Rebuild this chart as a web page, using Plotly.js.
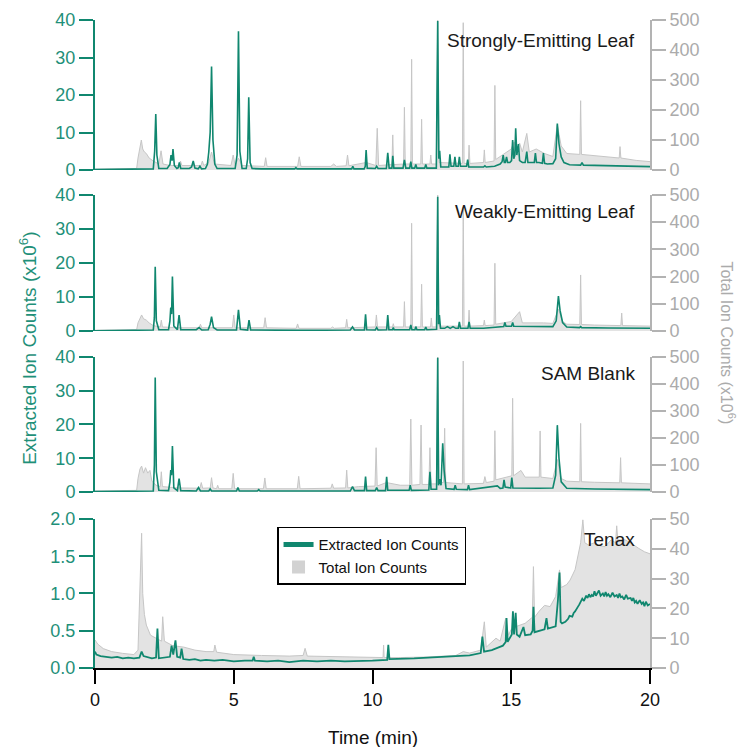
<!DOCTYPE html>
<html>
<head>
<meta charset="utf-8">
<script src="https://cdn.plot.ly/plotly-3.0.1.min.js"></script>
<style>html,body{margin:0;padding:0;background:#fff;}#chart{width:747px;height:747px;}</style>
</head>
<body>
<div id="chart"></div>
<script>
// ---- Data: [time (min), counts (x10^6)] ----
const panelNames = ["Strongly-Emitting Leaf", "Weakly-Emitting Leaf", "SAM Blank", "Tenax"];
const xTicks = [0, 5, 10, 15, 20];
const eicTicksTop = [0, 10, 20, 30, 40];
const ticTicksTop = [0, 100, 200, 300, 400, 500];
const eicTicksTenax = [0, 0.5, 1.0, 1.5, 2.0];
const ticTicksTenax = [0, 10, 20, 30, 40, 50];

const strongEic = [[0,0.1],[1.5,0.1],[1.6,0.3],[1.7,0.3],[2.1,0.3],[2.15,5],[2.19,14.9],[2.23,4],[2.3,0.4],[2.6,0.4],[2.7,1.5],[2.74,4],[2.78,2.5],[2.81,5.6],[2.86,1.2],[2.95,0.4],[3.0,0.6],[3.04,2],[3.09,0.4],[3.4,0.4],[3.48,0.8],[3.54,2.4],[3.6,0.5],[3.72,0.3],[3.78,1],[3.84,0.3],[3.98,0.4],[4.05,1.5],[4.1,4.8],[4.15,10],[4.2,27.6],[4.25,8],[4.32,1.5],[4.4,0.4],[5.05,0.4],[5.12,4],[5.17,37],[5.22,5],[5.3,0.4],[5.45,0.4],[5.5,3],[5.54,19.4],[5.59,2],[5.66,0.4],[6.0,0.3],[7.2,0.3],[7.24,0.6],[7.28,0.3],[9.0,0.3],[9.25,0.3],[9.29,1],[9.33,0.3],[9.7,0.3],[9.74,1],[9.77,5.3],[9.81,0.5],[10.1,0.4],[10.15,1],[10.2,0.4],[10.5,0.4],[10.55,4.6],[10.6,0.5],[10.7,0.5],[10.73,3.8],[10.77,0.5],[11.1,0.5],[11.15,2.7],[11.2,0.5],[11.34,0.5],[11.38,2.2],[11.42,0.5],[11.52,0.5],[11.56,1.5],[11.6,0.5],[11.88,0.5],[11.92,1.5],[11.96,0.5],[12.3,0.5],[12.35,39.7],[12.39,3],[12.42,5.1],[12.46,0.8],[12.6,0.8],[12.75,0.8],[12.79,4.2],[12.83,1],[12.93,1],[12.97,3.5],[13.01,1],[13.09,1],[13.13,3.5],[13.17,1],[13.39,1],[13.43,2.8],[13.47,0.8],[13.8,0.8],[14.0,0.8],[14.05,1.1],[14.1,0.8],[14.4,1.0],[14.6,1.6],[14.67,2.2],[14.71,4],[14.75,2],[14.79,2],[14.83,3.5],[14.87,2],[14.95,2],[15.01,2.5],[15.05,8],[15.09,3],[15.13,4],[15.16,11.1],[15.2,4],[15.26,6.9],[15.3,2.5],[15.4,2],[15.5,2],[15.56,4.9],[15.6,2],[15.7,2],[15.83,2],[15.87,4.5],[15.91,2],[16.0,2],[16.12,1.8],[16.16,4.5],[16.2,1.8],[16.3,1.6],[16.5,1.7],[16.6,3],[16.66,12.4],[16.72,7],[16.8,3.5],[16.9,2],[17.1,1.4],[17.5,1.3],[17.55,2],[17.6,1.3],[18.5,1.2],[19.5,1.0],[20,0.9]];
const strongTic = [[0,3],[1.5,5],[1.55,40],[1.62,80],[1.67,100],[1.72,70],[1.78,60],[1.85,55],[1.95,40],[2.1,30],[2.3,20],[2.38,64],[2.45,20],[2.7,15],[3.03,15],[3.08,30],[3.13,15],[3.82,15],[3.87,30],[3.92,15],[4.1,25],[4.2,60],[4.3,20],[4.9,15],[4.98,50],[5.05,15],[5.17,40],[5.3,15],[6.1,12],[6.15,41],[6.2,12],[7.3,12],[7.36,44],[7.42,12],[8.5,12],[8.6,20],[8.7,12],[9.05,14],[9.1,50],[9.15,14],[9.77,25],[10.12,15],[10.17,139],[10.22,15],[10.7,18],[10.73,117],[10.76,18],[11.12,20],[11.15,209],[11.18,20],[11.38,20],[11.41,369],[11.44,20],[11.74,20],[11.77,169],[11.8,20],[12.07,20],[12.1,50],[12.13,20],[12.3,20],[12.35,500],[12.4,25],[13.24,22],[13.27,491],[13.3,22],[13.45,22],[13.48,83],[13.51,22],[14.0,25],[14.03,67],[14.06,25],[14.38,30],[14.41,282],[14.44,35],[14.7,50],[15.0,70],[15.1,94],[15.2,70],[15.3,90],[15.4,60],[15.56,122],[15.65,60],[15.9,70],[16.2,55],[16.5,45],[16.66,150],[16.8,80],[17.0,55],[17.47,52],[17.5,231],[17.53,52],[18.0,48],[18.89,40],[18.92,78],[18.95,40],[19.5,32],[20,28]];

const weakEic = [[0,0.1],[1.5,0.1],[1.6,0.3],[2.1,0.3],[2.14,4],[2.17,18.9],[2.21,3],[2.3,0.4],[2.65,0.4],[2.7,3],[2.73,6.9],[2.76,5],[2.79,16],[2.84,1.5],[2.97,0.4],[3.03,4.7],[3.09,0.4],[3.65,0.4],[3.75,1],[3.85,0.3],[4.08,0.4],[4.15,2],[4.2,4.2],[4.27,1],[4.4,0.3],[5.1,0.3],[5.17,6.2],[5.24,0.5],[5.5,0.3],[5.55,3.2],[5.61,0.3],[7.2,0.2],[7.3,0.3],[7.4,0.2],[9.2,0.3],[9.28,1.2],[9.35,0.3],[9.71,0.3],[9.75,4.9],[9.79,0.4],[10.1,0.3],[10.15,1],[10.2,0.3],[10.51,0.4],[10.55,4.7],[10.59,0.4],[10.72,0.4],[10.75,1],[10.78,0.4],[11.34,0.4],[11.38,1.8],[11.42,0.4],[11.53,0.4],[11.56,1.3],[11.6,0.4],[11.88,0.4],[11.92,1.2],[11.96,0.4],[12.31,0.5],[12.35,39.5],[12.38,2],[12.41,4.7],[12.45,0.8],[12.6,0.8],[12.7,1.3],[12.8,0.8],[12.9,1.3],[13.0,0.8],[13.09,0.8],[13.13,2.7],[13.17,0.8],[13.44,0.8],[13.48,2.7],[13.52,0.8],[14.0,0.8],[14.5,1.2],[14.73,1.3],[14.77,2.5],[14.81,1.4],[15.01,1.4],[15.05,2.5],[15.09,1.4],[15.5,1.4],[16.0,1.3],[16.5,1.3],[16.62,3],[16.7,10.3],[16.76,6],[16.85,2.5],[17.0,1.2],[17.46,1],[17.5,1.3],[17.54,1],[18.5,0.9],[20,0.8]];
const weakTic = [[0,3],[1.5,5],[1.55,30],[1.62,50],[1.68,59],[1.75,45],[1.85,40],[1.95,30],[2.1,20],[2.35,15],[2.39,40],[2.43,15],[3.0,12],[3.75,12],[3.8,25],[3.85,12],[4.95,12],[5.0,59],[5.05,12],[6.08,12],[6.13,49],[6.18,12],[7.25,10],[7.3,26],[7.35,10],[8.5,10],[8.56,15],[8.62,10],[9.03,12],[9.07,43],[9.11,12],[10.1,15],[10.14,59],[10.18,15],[10.72,15],[10.75,27],[10.78,15],[11.12,15],[11.15,108],[11.18,15],[11.38,15],[11.41,396],[11.44,15],[11.74,15],[11.77,172],[11.8,15],[12.09,15],[12.12,48],[12.15,15],[12.3,15],[12.35,500],[12.4,18],[13.24,18],[13.27,455],[13.3,18],[13.45,18],[13.48,77],[13.51,18],[14.0,20],[14.03,40],[14.06,20],[14.38,22],[14.41,249],[14.44,25],[14.7,30],[15.0,35],[15.3,71],[15.4,30],[16.16,30],[16.5,28],[16.7,80],[16.85,35],[17.0,25],[17.47,24],[17.5,206],[17.53,24],[18.0,22],[18.95,20],[18.98,66],[19.01,20],[20,18]];

const blankEic = [[0,0.1],[1.5,0.1],[1.6,0.3],[2.1,0.3],[2.14,8],[2.17,33.9],[2.21,6],[2.3,0.5],[2.65,0.4],[2.7,3],[2.73,6.5],[2.76,5],[2.79,13.6],[2.84,1.2],[2.97,0.4],[3.03,4],[3.09,0.4],[3.65,0.3],[3.73,1.3],[3.8,0.3],[4.1,0.3],[4.15,0.9],[4.2,0.3],[5.1,0.3],[5.15,1.3],[5.2,0.3],[5.85,0.3],[5.9,0.7],[5.95,0.3],[7.3,0.3],[7.35,0.5],[7.4,0.3],[9.2,0.3],[9.28,1.6],[9.35,0.4],[9.71,0.4],[9.75,4.6],[9.79,0.4],[10.1,0.4],[10.15,1.3],[10.2,0.4],[10.47,0.4],[10.51,4.5],[10.55,0.5],[11.32,0.5],[11.36,2],[11.4,0.5],[12.03,0.6],[12.07,6],[12.11,0.8],[12.31,0.8],[12.35,39.8],[12.38,2],[12.42,3.8],[12.47,2],[12.53,14.4],[12.58,6.5],[12.65,1],[12.94,0.8],[12.98,2],[13.02,0.8],[13.42,0.7],[13.46,2],[13.5,0.7],[14.0,1.2],[14.5,1.8],[14.6,1.1],[14.7,1.2],[14.74,3.6],[14.78,1.5],[14.98,1.2],[15.02,4.3],[15.06,1.2],[15.5,1.1],[16.0,1.1],[16.5,1.2],[16.6,5],[16.66,19.8],[16.72,10],[16.8,3],[17.0,1.1],[18,0.9],[20,0.7]];
const blankTic = [[0,4],[1.5,6],[1.55,50],[1.62,85],[1.68,96],[1.75,70],[1.82,90],[1.9,70],[1.98,80],[2.05,40],[2.2,25],[2.35,20],[2.39,75],[2.43,20],[3.0,15],[3.78,14],[3.83,35],[3.88,14],[4.15,15],[4.2,53],[4.25,15],[4.38,12],[4.42,25],[4.46,12],[4.93,12],[4.98,69],[5.03,12],[6.07,12],[6.12,52],[6.17,12],[7.29,12],[7.34,58],[7.39,12],[8.5,14],[8.55,30],[8.6,14],[9.03,15],[9.07,81],[9.11,15],[9.5,20],[10.09,22],[10.13,164],[10.17,22],[10.5,35],[11.0,25],[11.34,25],[11.38,270],[11.42,25],[11.71,28],[11.75,248],[11.79,28],[12.03,28],[12.07,164],[12.11,30],[12.3,30],[12.35,500],[12.4,35],[12.56,35],[12.6,236],[12.64,35],[13.24,30],[13.27,485],[13.3,30],[14.0,32],[14.05,57],[14.1,35],[14.38,40],[14.41,227],[14.44,45],[14.8,55],[15.02,60],[15.05,347],[15.08,60],[15.35,80],[15.5,55],[16.01,55],[16.04,226],[16.07,55],[16.5,50],[16.66,120],[16.8,50],[17.0,40],[17.47,38],[17.5,254],[17.53,38],[18.0,36],[18.91,34],[18.94,127],[18.97,34],[20,30]];

const tenaxEic = [[0,0.22],[0.05,0.18],[0.2,0.16],[0.4,0.15],[0.6,0.14],[0.8,0.15],[1.0,0.13],[1.2,0.14],[1.4,0.13],[1.6,0.14],[1.68,0.22],[1.75,0.16],[1.9,0.15],[2.05,0.13],[2.2,0.14],[2.25,0.53],[2.3,0.13],[2.5,0.14],[2.7,0.15],[2.76,0.3],[2.82,0.18],[2.9,0.37],[2.96,0.15],[3.07,0.14],[3.12,0.26],[3.18,0.12],[3.4,0.11],[3.6,0.12],[3.8,0.1],[4.0,0.11],[4.3,0.1],[4.6,0.11],[5.0,0.09],[5.4,0.1],[5.68,0.1],[5.72,0.15],[5.76,0.1],[6.2,0.09],[6.6,0.1],[7.0,0.08],[7.5,0.1],[8.0,0.09],[8.5,0.1],[9.0,0.09],[9.5,0.1],[10.0,0.1],[10.53,0.11],[10.57,0.31],[10.61,0.12],[11.0,0.12],[11.5,0.13],[12.0,0.14],[12.5,0.15],[13.0,0.16],[13.5,0.17],[13.9,0.2],[13.96,0.42],[14.02,0.22],[14.3,0.24],[14.5,0.27],[14.7,0.3],[14.8,0.35],[14.83,0.67],[14.87,0.35],[14.95,0.4],[15.02,0.45],[15.06,0.76],[15.1,0.45],[15.16,0.74],[15.2,0.45],[15.3,0.42],[15.44,0.55],[15.5,0.44],[15.7,0.45],[15.77,0.5],[15.8,0.82],[15.84,0.48],[16.0,0.5],[16.2,0.52],[16.27,0.67],[16.32,0.53],[16.6,0.56],[16.68,0.9],[16.74,1.28],[16.78,0.62],[16.83,0.6],[16.95,0.62],[17.05,0.66],[17.1,0.7],[17.2,0.69],[17.25,0.74],[17.3,0.76],[17.35,0.8],[17.4,0.82],[17.45,0.85],[17.5,0.88],[17.56,0.93],[17.62,0.9],[17.7,0.97],[17.75,0.94],[17.8,0.99],[17.85,0.95],[17.9,0.98],[17.95,0.96],[18.0,1.03],[18.05,0.97],[18.1,1.0],[18.16,1.04],[18.22,0.97],[18.3,1.0],[18.35,0.96],[18.4,1.02],[18.45,0.97],[18.5,0.99],[18.57,0.95],[18.65,1.01],[18.72,0.96],[18.8,0.98],[18.85,0.94],[18.9,1.0],[18.95,0.95],[19.0,0.96],[19.07,0.92],[19.14,0.98],[19.2,0.93],[19.3,0.94],[19.35,0.9],[19.4,0.94],[19.45,0.88],[19.5,0.9],[19.55,0.86],[19.63,0.91],[19.7,0.86],[19.75,0.88],[19.8,0.83],[19.85,0.89],[19.92,0.84],[20,0.86]];
const tenaxTic = [[0,9.4],[0.1,8],[0.3,6.5],[0.6,5.5],[1.0,4.9],[1.4,4.5],[1.55,6],[1.6,24],[1.64,30],[1.68,45.2],[1.72,25],[1.78,18],[1.85,14.4],[2.0,11],[2.2,10],[2.4,9],[2.44,17.2],[2.5,9],[2.8,7.5],[3.2,7],[3.6,6],[4.0,5.5],[4.28,5.5],[4.32,7.7],[4.38,5.3],[5.0,4.5],[6.0,4.2],[7.0,4],[7.5,4.2],[7.57,6.6],[7.65,4],[8.5,3.8],[9.5,3.6],[10.0,3.5],[10.38,3.5],[10.4,7.7],[10.42,3.5],[11.0,3.5],[12.0,3.7],[13.0,4.2],[13.27,5.5],[13.5,5],[13.9,6],[14.03,15.5],[14.1,7],[14.45,10],[14.6,9],[14.8,16.7],[14.9,11],[15.0,13],[15.2,14],[15.5,15],[15.76,17],[15.8,34],[15.84,17],[16.0,19],[16.2,21],[16.4,20.6],[16.6,24],[16.74,32.9],[16.8,27],[17.0,28],[17.12,29.5],[17.3,33],[17.42,39],[17.5,42],[17.58,49.7],[17.65,42],[17.78,41.3],[18.0,42],[18.2,41],[18.38,40.7],[18.6,43],[18.76,42],[18.8,47.7],[18.84,43],[19.1,43],[19.3,42],[19.58,40.2],[19.8,39],[20,38.3]];

// ---- Styling ----
const TEAL = '#10876f';
const TEAL_TXT = '#1f9079';
const GREY_AX = '#b3b3b3';
const GREY_TXT = '#ababab';
const FONT = 'Liberation Sans, Arial, Helvetica, sans-serif';

const panels = [
  {eic: strongEic, tic: strongTic, dom: [0.7685, 1.0], eMax: 40, tMax: 500, eTicks: eicTicksTop, tTicks: ticTicksTop, fmt: ''},
  {eic: weakEic, tic: weakTic, dom: [0.520, 0.730], eMax: 40, tMax: 500, eTicks: eicTicksTop, tTicks: ticTicksTop, fmt: ''},
  {eic: blankEic, tic: blankTic, dom: [0.2716, 0.480], eMax: 40, tMax: 500, eTicks: eicTicksTop, tTicks: ticTicksTop, fmt: ''},
  {eic: tenaxEic, tic: tenaxTic, dom: [0.0, 0.230], eMax: 2, tMax: 50, eTicks: eicTicksTenax, tTicks: ticTicksTenax, fmt: '.1f'}
];

const traces = [];
const layout = {
  width: 747, height: 747,
  margin: {l: 95, r: 97, t: 20, b: 79},
  paper_bgcolor: '#ffffff', plot_bgcolor: 'rgba(0,0,0,0)',
  font: {family: FONT, size: 15, color: '#222'},
  showlegend: true,
  legend: {x: 0.328, y: 0.218, xanchor: 'left', yanchor: 'top', bgcolor: '#ffffff',
           bordercolor: '#000000', borderwidth: 1.5, font: {family: FONT, size: 15, color: '#111'},
           tracegroupgap: 0, itemwidth: 30},
  xaxis: {range: [0, 20], tickvals: xTicks, ticks: 'outside', ticklen: 14, tickwidth: 2, tickcolor: '#000',
          showline: true, linecolor: '#000', linewidth: 2, showgrid: false, zeroline: false,
          anchor: 'y7', tickfont: {family: FONT, size: 18, color: '#111'}},
  annotations: []
};

panels.forEach((p, i) => {
  const base = 2 * i + 1;          // TIC (right) axis index: base axis
  const over = 2 * i + 2;          // EIC (left) axis, overlays base
  const ticName = base === 1 ? 'y' : 'y' + base;
  const eicName = 'y' + over;
  traces.push({
    x: p.tic.map(d => d[0]), y: p.tic.map(d => d[1]), xaxis: 'x', yaxis: ticName,
    type: 'scatter', mode: 'lines', fill: 'tozeroy', fillcolor: '#e3e3e3',
    line: {color: '#c6c6c6', width: 1}, showlegend: false, hoverinfo: 'skip'
  });
  traces.push({
    x: p.eic.map(d => d[0]), y: p.eic.map(d => d[1]), xaxis: 'x', yaxis: eicName,
    type: 'scatter', mode: 'lines', line: {color: TEAL, width: i === 3 ? 1.8 : 1.6},
    showlegend: false, hoverinfo: 'skip'
  });
  const ticKey = base === 1 ? 'yaxis' : 'yaxis' + base;
  layout[ticKey] = {
    domain: p.dom, range: [0, p.tMax], tickvals: p.tTicks, side: 'right', anchor: 'x',
    ticks: 'outside', ticklen: 14, tickwidth: 2, tickcolor: GREY_AX,
    showline: true, linecolor: GREY_AX, linewidth: 2, showgrid: false, zeroline: false,
    tickfont: {family: FONT, size: 18, color: GREY_TXT}
  };
  layout['yaxis' + over] = {
    overlaying: ticName, range: [0, p.eMax], tickvals: p.eTicks, side: 'left', anchor: 'x',
    tickformat: p.fmt, ticks: 'outside', ticklen: 14, tickwidth: 2, tickcolor: TEAL,
    showline: true, linecolor: TEAL, linewidth: 2, showgrid: false, zeroline: false,
    tickfont: {family: FONT, size: 18, color: TEAL_TXT}
  };
});

// Legend-only entries (no data drawn)
traces.push({x: [null], y: [null], xaxis: 'x', yaxis: 'y8', type: 'scatter', mode: 'lines',
             name: 'Extracted Ion Counts', line: {color: TEAL, width: 5}, showlegend: true});
traces.push({x: [null], y: [null], xaxis: 'x', yaxis: 'y7', type: 'scatter', mode: 'markers',
             name: 'Total Ion Counts', marker: {symbol: 'square', size: 13, color: '#d2d2d2'}, showlegend: true});

// Panel labels
const labelY = [0.969, 0.704, 0.455, 0.199];
panelNames.forEach((n, i) => {
  layout.annotations.push({text: n, xref: 'paper', yref: 'paper', x: 0.976, y: labelY[i],
    xanchor: 'right', yanchor: 'middle', showarrow: false,
    font: {family: FONT, size: 19, color: '#1a1a1a'}});
});
layout.annotations.push({text: 'Extracted Ion Counts (x10<sup>6</sup>)', xref: 'paper', yref: 'paper',
  x: -0.122, y: 0.493, textangle: -90, showarrow: false, xanchor: 'center', yanchor: 'middle',
  font: {family: FONT, size: 19, color: TEAL_TXT}});
layout.annotations.push({text: 'Total Ion Counts (x10<sup>6</sup>)', xref: 'paper', yref: 'paper',
  x: 1.141, y: 0.502, textangle: 90, showarrow: false, xanchor: 'center', yanchor: 'middle',
  font: {family: FONT, size: 16, color: GREY_TXT}});
layout.annotations.push({text: 'Time (min)', xref: 'paper', yref: 'paper',
  x: 0.5, y: -0.108, showarrow: false, xanchor: 'center', yanchor: 'middle',
  font: {family: FONT, size: 19, color: '#111'}});

Plotly.newPlot('chart', traces, layout, {staticPlot: true, displayModeBar: false});
</script>
</body>
</html>
